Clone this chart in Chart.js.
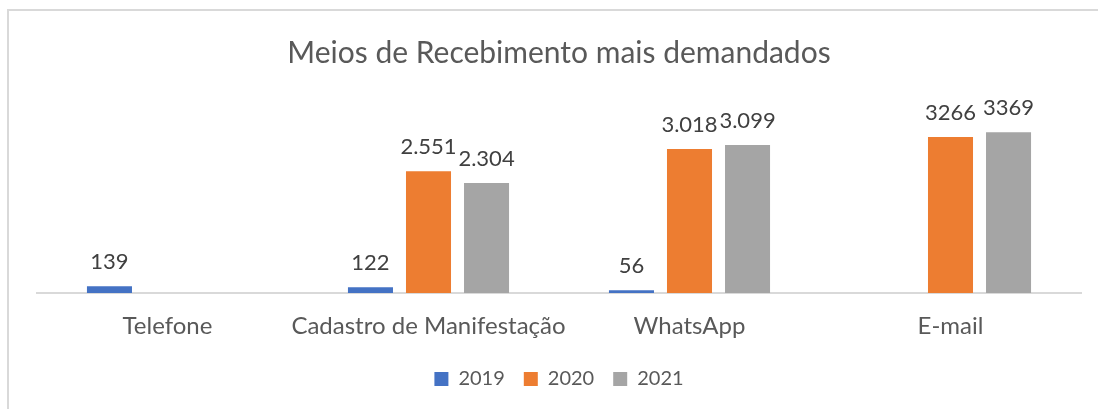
<!DOCTYPE html>
<html lang="pt">
<head>
    <meta charset="UTF-8">
    <title>Meios de Recebimento</title>
    <script src="https://cdn.jsdelivr.net/npm/chart.js"></script>
    <style>
        body {
            margin: 0;
            background-color: #ffffff;
            font-family: Lato, sans-serif;
        }

        #frame {
            position: absolute;
            left: 7px;
            top: 9px;
            width: 1100px;
            height: 410px;
            border-left: 2px solid #d9d9d9;
            border-top: 2px solid #d9d9d9;
        }

        #chartBox {
            position: absolute;
            left: 0;
            top: 0;
            width: 1098px;
            height: 409px;
        }
    </style>
</head>
<body>
<div id="frame"></div>
<div id="chartBox">
    <canvas id="meiosChart"></canvas>
</div>

<script>
    const categories = ['Telefone', 'Cadastro de Manifestação', 'WhatsApp', 'E-mail'];
    const years = ['2019', '2020', '2021'];

    const values2019 = [139, 122, 56, null];
    const values2020 = [null, 2551, 3018, 3266];
    const values2021 = [null, 2304, 3099, 3369];

    // labels as printed in the original (mixed formats)
    const text2019 = ['139', '122', '56', ''];
    const text2020 = ['', '2.551', '3.018', '3266'];
    const text2021 = ['', '2.304', '3.099', '3369'];

    const colors = ['#4472C4', '#ED7D31', '#A5A5A5'];

    // draws the value above every bar
    const valueLabels = {
        id: 'valueLabels',
        afterDatasetsDraw(chart) {
            const ctx = chart.ctx;
            ctx.save();
            ctx.font = '22px Lato';
            ctx.fillStyle = '#404040';
            ctx.textAlign = 'center';
            ctx.textBaseline = 'alphabetic';
            chart.data.datasets.forEach((ds, i) => {
                const meta = chart.getDatasetMeta(i);
                meta.data.forEach((bar, j) => {
                    if (ds.data[j] == null) return;
                    ctx.fillText(ds.valueText[j], bar.x, bar.y - 17);
                });
            });
            ctx.restore();
        }
    };

    const ctx = document.getElementById('meiosChart').getContext('2d');
    const chart = new Chart(ctx, {
        type: 'bar',
        data: {
            labels: categories,
            datasets: [
                {label: years[0], data: values2019, valueText: text2019, backgroundColor: colors[0]},
                {label: years[1], data: values2020, valueText: text2020, backgroundColor: colors[1]},
                {label: years[2], data: values2021, valueText: text2021, backgroundColor: colors[2]}
            ]
        },
        options: {
            responsive: true,
            maintainAspectRatio: false,
            animation: false,
            layout: {
                padding: {left: 37, right: 17, top: 0, bottom: 10}
            },
            datasets: {
                bar: {
                    categoryPercentage: 0.667,
                    barPercentage: 0.776
                }
            },
            scales: {
                x: {
                    grid: {display: false, drawTicks: false},
                    border: {display: true, color: '#d9d9d9', width: 2},
                    ticks: {
                        color: '#595959',
                        font: {family: 'Lato', size: 24},
                        padding: 19,
                        maxRotation: 0,
                        minRotation: 0,
                        autoSkip: false
                    },
                    afterFit(scale) {
                        scale.height = 57;
                    }
                },
                y: {
                    display: false,
                    min: 0,
                    max: 4000
                }
            },
            plugins: {
                title: {
                    display: true,
                    text: 'Meios de Recebimento mais demandados',
                    color: '#595959',
                    font: {family: 'Lato', size: 30, weight: 'normal', lineHeight: 1.2},
                    padding: {top: 35, bottom: 31}
                },
                legend: {
                    position: 'bottom',
                    labels: {
                        color: '#595959',
                        font: {family: 'Lato', size: 20},
                        boxWidth: 14,
                        boxHeight: 14,
                        padding: 19
                    }
                },
                tooltip: {enabled: false}
            }
        },
        plugins: [valueLabels]
    });
</script>
</body>
</html>
